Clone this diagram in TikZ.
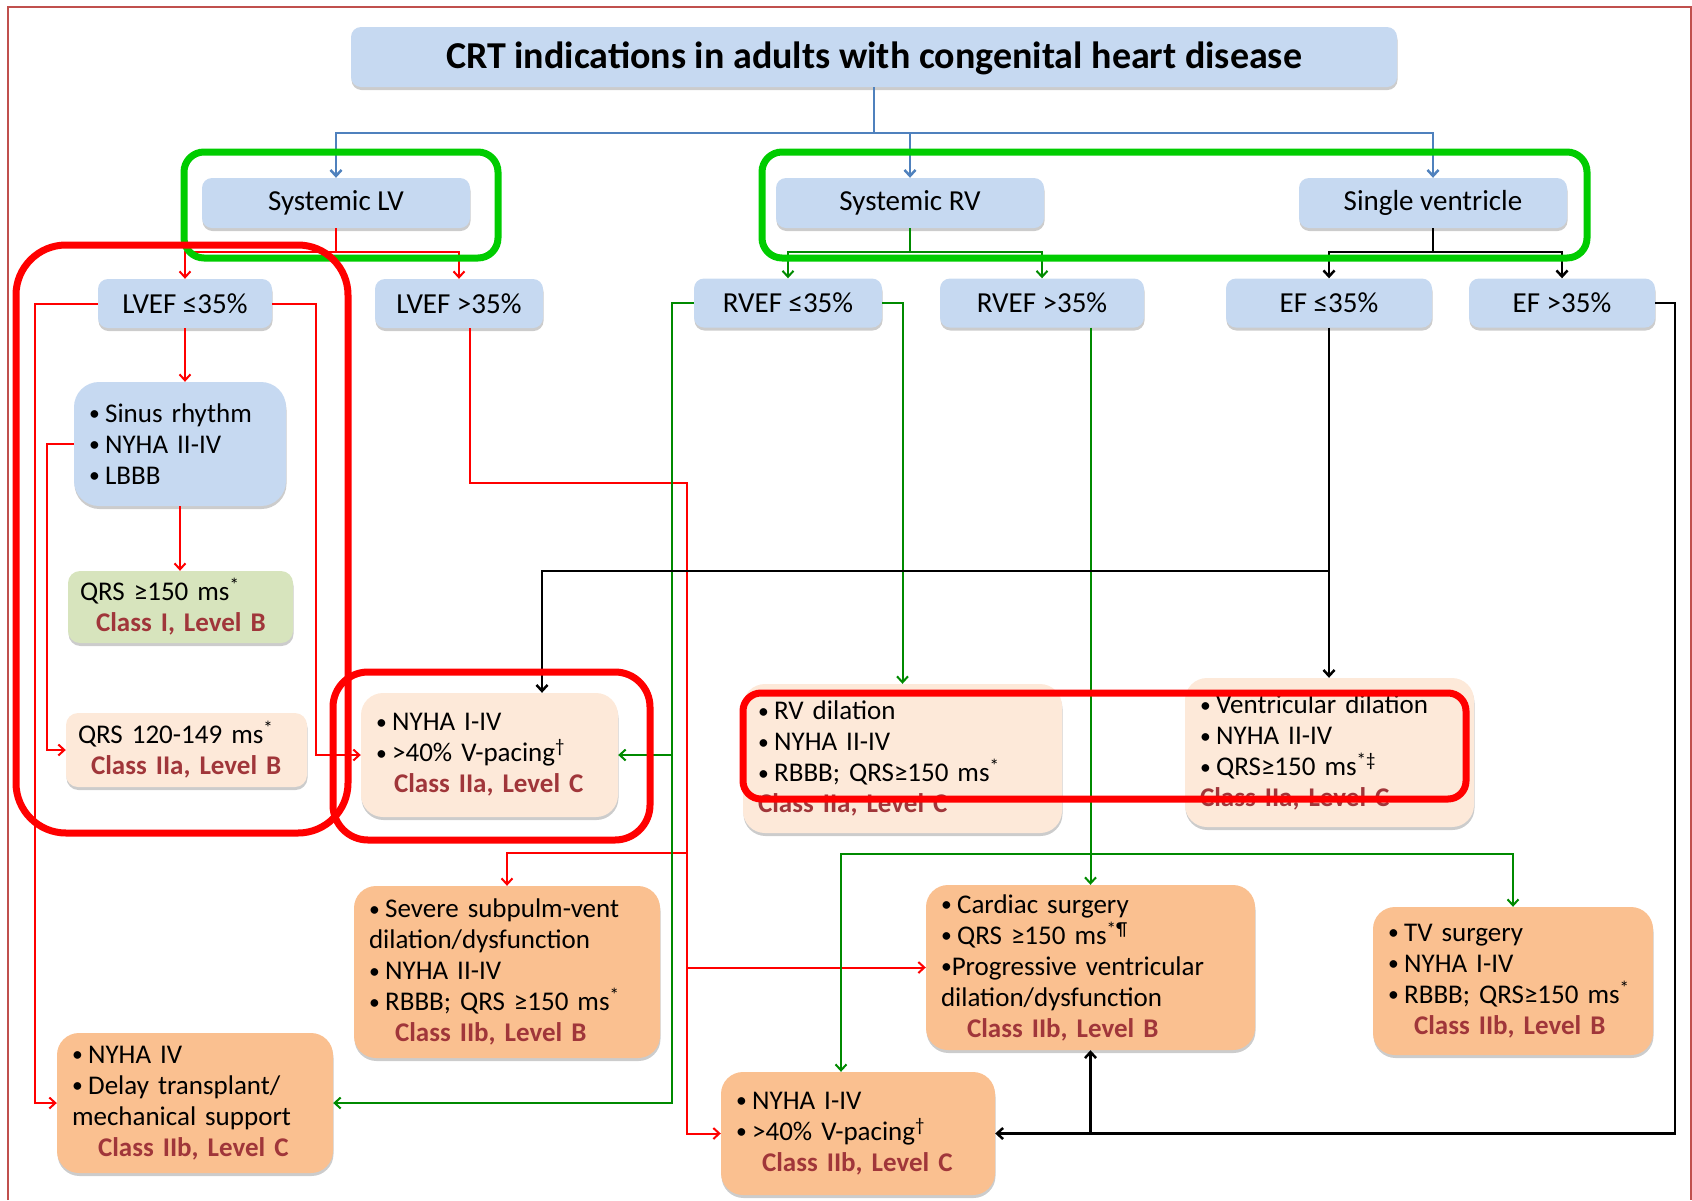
\documentclass[tikz,border=0pt]{standalone}
\usepackage{fontspec}
\usepackage{graphicx}
\setmainfont{Carlito}
\usetikzlibrary{arrows.meta,shadows}

\definecolor{hdrblue}{HTML}{C6D9F1}
\definecolor{peach}{HTML}{FDE9D9}
\definecolor{orng}{HTML}{FAC090}
\definecolor{sage}{HTML}{D7E4BD}
\definecolor{clsred}{HTML}{A0363A}
\definecolor{lnblue}{HTML}{4F81BD}
\definecolor{lngreen}{HTML}{008A00}
\definecolor{ringgreen}{HTML}{00CC00}
\definecolor{framered}{HTML}{C0504D}

% small bullet
\newcommand{\bl}{\raisebox{0.12ex}{\scalebox{0.8}{•}}\hspace{0.2em}}
% class / level line, indented
\newcommand{\cls}[2][26pt]{\\\hspace*{#1}\textcolor{clsred}{\bfseries #2}}

\tikzset{
  >={Straight Barb[length=6pt,width=11pt]},
  shd/.style={drop shadow={shadow xshift=0.5pt,shadow yshift=-3pt,opacity=0.2,fill=black}},
  hdr/.style={fill=hdrblue, rounded corners=10pt, shd, inner sep=0pt, font=\fontsize{29}{33}\selectfont},
  lst/.style={fill=#1, rounded corners=22pt, shd, inner xsep=15pt, inner ysep=0pt, align=left, font=\fontsize{27}{31}\selectfont},
  blu/.style={draw=lnblue, line width=2.5pt},
  rdl/.style={draw=red, line width=2pt},
  grl/.style={draw=lngreen, line width=2pt},
  bkl/.style={draw=black, line width=2.5pt},
  ring/.style={draw=#1, line width=7pt},
}

\begin{document}
\begin{tikzpicture}[x=1pt,y=-1pt]
\useasboundingbox (0,0) rectangle (1692,1200);
\draw[framered, line width=2pt] (8,1200) -- (8,7) -- (1690.5,7) -- (1690.5,1200);

% title
\node[hdr, minimum width=1046pt, minimum height=60pt, text depth=3pt, font=\fontsize{38}{43}\selectfont\bfseries] (title) at (874,57) {CRT indications in adults with congenital heart disease};

% ventricle type
\node[hdr, minimum width=268pt, minimum height=50pt] (sysLV) at (336,203) {Systemic LV};
\node[hdr, minimum width=268pt, minimum height=50pt] (sysRV) at (910,203) {Systemic RV};
\node[hdr, minimum width=268pt, minimum height=50pt] (single) at (1433,203) {Single ventricle};

% ejection fraction
\node[hdr, minimum width=174pt, minimum height=49pt] (lvefLo) at (185,303.5) {LVEF ≤35\%};
\node[hdr, minimum width=168pt, minimum height=49pt] (lvefHi) at (459,303.5) {LVEF >35\%};
\node[hdr, minimum width=188pt, minimum height=49pt] (rvefLo) at (788,303) {RVEF ≤35\%};
\node[hdr, minimum width=204pt, minimum height=49pt] (rvefHi) at (1042,303) {RVEF >35\%};
\node[hdr, minimum width=206pt, minimum height=49pt] (efLo) at (1329,303) {EF ≤35\%};
\node[hdr, minimum width=186pt, minimum height=49pt] (efHi) at (1562,303) {EF >35\%};

% criteria and recommendations
\node[lst=hdrblue, rounded corners=25pt, text width=182pt, minimum height=124pt] (sinus) at (180,444) {\bl Sinus rhythm\\\bl NYHA II-IV\\\bl LBBB};
\node[lst=sage, rounded corners=12pt, inner xsep=12pt, text width=201pt, minimum height=72pt] (qrsA) at (180.5,607) {QRS ≥150 ms\textsuperscript{*}\cls[16pt]{Class I, Level B}};
\node[lst=peach, rounded corners=12pt, inner xsep=12pt, text width=217pt, minimum height=74pt] (qrsB) at (186.5,750) {QRS 120-149 ms\textsuperscript{*}\cls[13pt]{Class IIa, Level B}};
\node[lst=peach, text width=227pt, minimum height=124pt] (pace) at (489.5,755) {\bl NYHA I-IV\\\bl >40\% V-pacing\textsuperscript{†}\cls[18pt]{Class IIa, Level C}};
\node[lst=peach, text width=289pt, minimum height=149pt] (rvdil) at (902.5,758.5) {\bl RV dilation\\\bl NYHA II-IV\\\bl RBBB; QRS≥150 ms\textsuperscript{*}\cls[0pt]{Class IIa, Level C}};
\node[lst=peach, text width=259pt, minimum height=149pt] (vdil) at (1329.5,752.5) {\bl Ventricular dilation\\\bl NYHA II-IV\\\bl QRS≥150 ms\textsuperscript{*‡}\cls[0pt]{Class IIa, Level C}};
\node[lst=orng, text width=276pt, minimum height=172pt] (subpulm) at (507,972) {\bl Severe subpulm-vent\\dilation/dysfunction\\\bl NYHA II-IV\\\bl RBBB; QRS ≥150 ms\textsuperscript{*}\cls{Class IIb, Level B}};
\node[lst=orng, text width=246pt, minimum height=140pt] (nyha4) at (195,1103) {\bl NYHA IV\\\bl Delay transplant/\\mechanical support\cls{Class IIb, Level C}};
\node[lst=orng, text width=299pt, minimum height=165pt] (cardiac) at (1090.5,967.5) {\bl Cardiac surgery\\\bl QRS ≥150 ms\textsuperscript{*¶}\\\raisebox{0.12ex}{\scalebox{0.8}{•}}Progressive ventricular\\dilation/dysfunction\cls{Class IIb, Level B}};
\node[lst=orng, text width=250pt, minimum height=148pt] (tv) at (1513,981) {\bl TV surgery\\\bl NYHA I-IV\\\bl RBBB; QRS≥150 ms\textsuperscript{*}\cls{Class IIb, Level B}};
\node[lst=orng, text width=244pt, minimum height=123pt] (paceB) at (858,1133.5) {\bl NYHA I-IV\\\bl >40\% V-pacing\textsuperscript{†}\cls{Class IIb, Level C}};

% title to ventricle type
\draw[blu] (title.south) -- (874,133) coordinate (tj);
\draw[blu,->] (tj) -| (sysLV.north);
\draw[blu,->] (tj) -| (sysRV.north);
\draw[blu,->] (tj) -| (single.north);

% systemic LV
\draw[rdl] (sysLV.south) -- (336,252) coordinate (lvj);
\draw[rdl,->] (lvj) -| (lvefLo.north);
\draw[rdl,->] (lvj) -| (lvefHi.north);
\draw[rdl,->] (lvefLo.south) -- (lvefLo.south |- sinus.north);
\draw[rdl,->] (sinus.south) -- (sinus.south |- qrsA.north);
\draw[rdl,->] (sinus.west) -- (47,444) |- (qrsB.west);
\draw[rdl,->] (lvefLo.west) -- (35,303.5) |- (nyha4.west);
\draw[rdl,->] (lvefLo.east) -- (316,303.5) |- (pace.west);
\draw[rdl,->] (lvefHi.south -| 470,0) -- (470,483) -- (687,483) |- (paceB.west);
\draw[rdl,->] (687,853) -| (subpulm.north);
\draw[rdl,->] (cardiac.west -| 687,0) -- (cardiac.west);

% systemic RV
\draw[grl] (sysRV.south) -- (910,252) coordinate (rvj);
\draw[grl,->] (rvj) -| (rvefLo.north);
\draw[grl,->] (rvj) -| (rvefHi.north);
\draw[grl,->] (rvefLo.east) -| (rvdil.north);
\draw[grl,->] (rvefLo.west) -- (672,303) |- (nyha4.east);
\draw[grl,->] (pace.east -| 672,0) -- (pace.east);
\draw[grl,->] (rvefHi.south -| cardiac.north) -- (cardiac.north);
\draw[grl,->] (1090,854) -| (paceB.north -| 841,0);
\draw[grl,->] (1090,854) -| (tv.north);

% single ventricle
\draw[bkl] (single.south) -- (1433,252) coordinate (svj);
\draw[bkl,->] (svj) -| (efLo.north);
\draw[bkl,->] (svj) -| (efHi.north);
\draw[bkl,->] (efLo.south) -- (efLo.south |- vdil.north);
\draw[bkl,->] (1329,571) -| (pace.north -| 542,0);
\draw[bkl,->] (efHi.east) -- (1675,303) |- (paceB.east);
\draw[bkl,->] (cardiac.south |- paceB.east) -- (cardiac.south);

% highlight rings
\draw[ring=ringgreen, rounded corners=20pt] (184,152) rectangle (498,258);
\draw[ring=ringgreen, rounded corners=20pt] (762,152) rectangle (1587,258);
\draw[ring=red, rounded corners=50pt] (16,245) rectangle (348,833);
\draw[ring=red, rounded corners=35pt] (333,672) rectangle (650,840);
\draw[ring=red, rounded corners=18pt] (743,693) rectangle (1466,799);
\end{tikzpicture}
\end{document}
